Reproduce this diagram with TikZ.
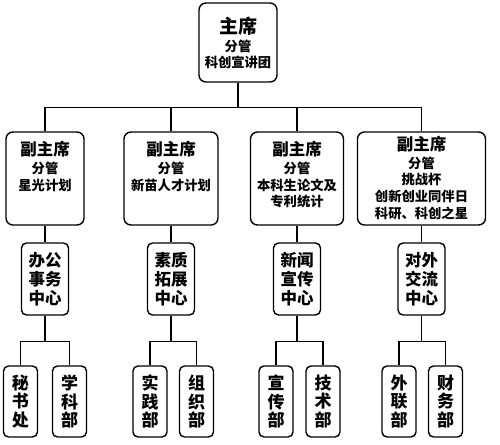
\documentclass[tikz,border=0pt]{standalone}
\usepackage{fontspec}
\setmainfont{Noto Sans CJK SC}
\usepackage{tikz}
\usetikzlibrary{positioning}

% text block that starts at the top of a box
\newcommand{\topblock}[3]{\parbox[c][93pt][t]{#2}{\centering\vspace*{#1}%
  {\fontsize{16.5}{17}\selectfont 副主席}\\[1pt]%
  \fontsize{13.3}{16.7}\selectfont #3}}

\begin{document}
\begin{tikzpicture}[x=1pt, y=-1pt, line width=1.4pt,
    box/.style={draw, rounded corners=7pt, align=center, inner sep=0pt},
    vicebox/.style={box, font=\bfseries},
    centerbox/.style={box, rounded corners=5pt, minimum width=47, minimum height=72,
      font=\bfseries\fontsize{16.5}{19}\selectfont},
    leafbox/.style={box, rounded corners=5pt, minimum width=34, minimum height=71,
      font=\bfseries\fontsize{17}{18.5}\selectfont}]
    \useasboundingbox (0,0) rectangle (500,444);

    % Nodes
    \node[box, minimum width=78, minimum height=79, font=\bfseries\fontsize{13.3}{16}\selectfont]
      (chair) at (238,42.5) {{\fontsize{19}{21}\selectfont 主席}\\[2pt] 分管\\ 科创宣讲团};

    \node[vicebox] (vice1) at (45,178.5) {\topblock{9.5pt}{78pt}{分管\\ 星光计划}};
    \node[vicebox] (vice2) at (171,178.5) {\topblock{9.5pt}{94pt}{分管\\ 新苗人才计划}};
    \node[vicebox] (vice3) at (297,178.5) {\topblock{9.5pt}{93pt}{分管\\ 本科生论文及\\ 专利统计}};
    \node[vicebox] (vice4) at (421.5,178.5) {\topblock{4pt}{128pt}{分管\\ 挑战杯\\ 创新创业同伴日\\ 科研、科创之星}};

    \node[centerbox] (center1) at (45,279) {办公\\ 事务\\ 中心};
    \node[centerbox] (center2) at (171,279) {素质\\ 拓展\\ 中心};
    \node[centerbox] (center3) at (297,279) {新闻\\ 宣传\\ 中心};
    \node[centerbox] (center4) at (421.5,279) {对外\\ 交流\\ 中心};

    \node[leafbox] (leaf1a) at (20.5,401.5) {秘\\ 书\\ 处};
    \node[leafbox] (leaf1b) at (69.5,401.5) {学\\ 科\\ 部};
    \node[leafbox] (leaf2a) at (150,401.5) {实\\ 践\\ 部};
    \node[leafbox] (leaf2b) at (196.5,401.5) {组\\ 织\\ 部};
    \node[leafbox] (leaf3a) at (276,401.5) {宣\\ 传\\ 部};
    \node[leafbox] (leaf3b) at (323,401.5) {技\\ 术\\ 部};
    \node[leafbox] (leaf4a) at (399,401.5) {外\\ 联\\ 部};
    \node[leafbox] (leaf4b) at (445.5,401.5) {财\\ 务\\ 部};

    % Paths
    \foreach \i in {1,...,4} {
      \draw (chair.south) -- ++(0,24.5) -| (vice\i.north);
      \draw (vice\i.south) -- (center\i.north);
      \draw (center\i.south) -- ++(0,26) -| (leaf\i a.north);
      \draw (center\i.south) -- ++(0,26) -| (leaf\i b.north);
    }
\end{tikzpicture}
\end{document}
